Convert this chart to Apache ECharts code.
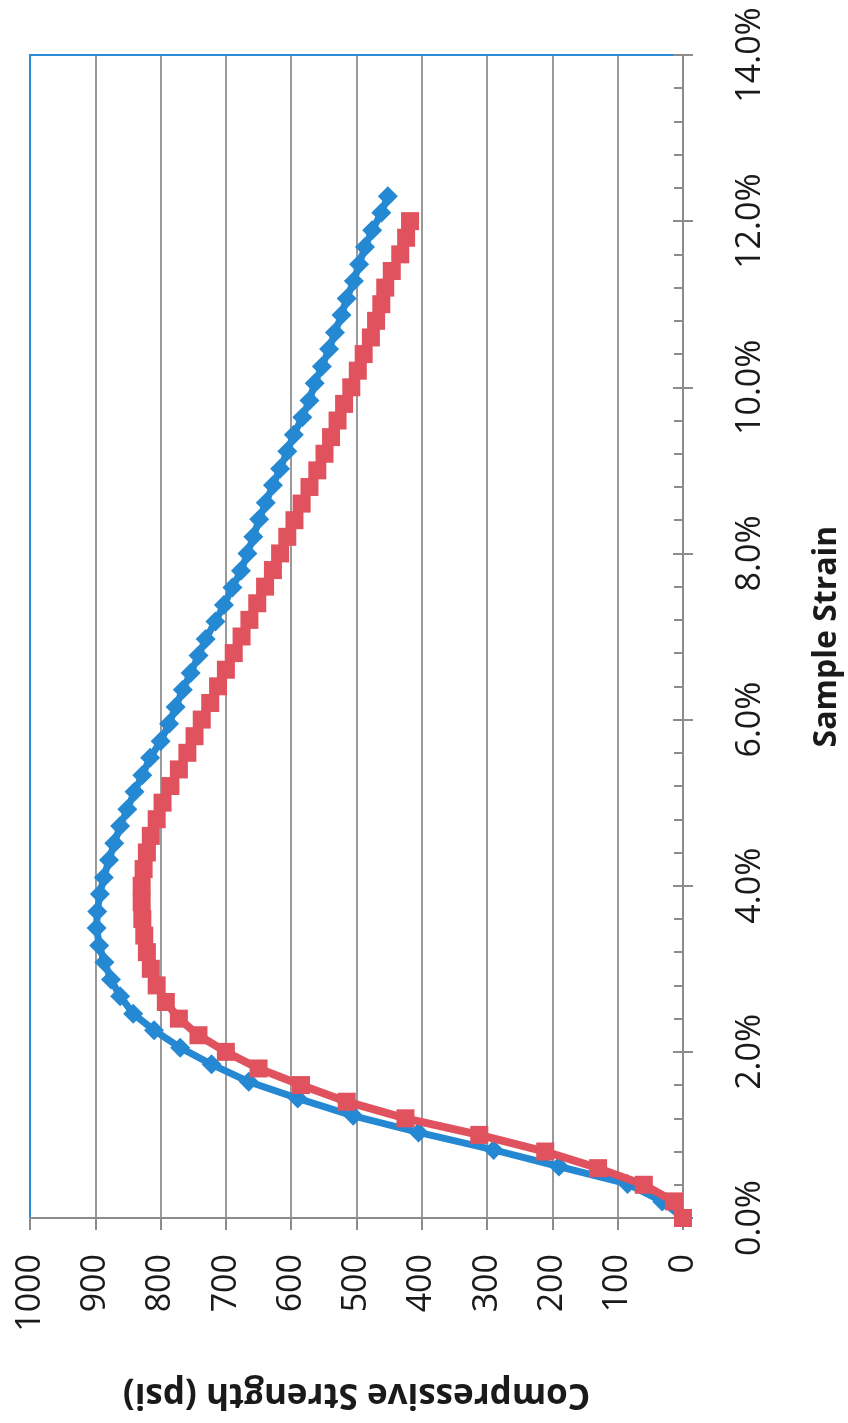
<!DOCTYPE html>
<html>
<head>
<meta charset="utf-8">
<script src="https://cdn.jsdelivr.net/npm/echarts@6/dist/echarts.min.js"></script>
<style>
html,body{margin:0;padding:0;background:#fff;}
#chart{width:848px;height:1423px;}
</style>
</head>
<body>
<div id="chart"></div>
<script>
// Sample strain (%) for each series
const blueStrain = [0, 0.2, 0.41, 0.62, 0.82, 1.03, 1.23, 1.44, 1.64, 1.85, 2.05, 2.26, 2.46, 2.67, 2.87, 3.08, 3.28, 3.49, 3.69, 3.9, 4.1, 4.31, 4.51, 4.72, 4.92, 5.13, 5.33, 5.54, 5.74, 5.95, 6.15, 6.36, 6.56, 6.77, 6.97, 7.18, 7.38, 7.59, 7.79, 8.0, 8.2, 8.41, 8.61, 8.82, 9.02, 9.23, 9.43, 9.64, 9.84, 10.05, 10.25, 10.46, 10.66, 10.87, 11.07, 11.28, 11.48, 11.69, 11.89, 12.1, 12.3];
const blueStrength = [0, 32, 85, 190, 290, 405, 505, 590, 665, 722, 770, 810, 842, 862, 876, 886, 894, 898, 897, 893, 887, 879, 871, 862, 851, 840, 828, 816, 800, 787, 777, 766, 754, 742, 731, 716, 703, 690, 677, 667, 658, 649, 639, 628, 617, 606, 596, 583, 572, 564, 553, 542, 533, 523, 515, 504, 496, 487, 476, 462, 452];
const redStrain = [0, 0.2, 0.4, 0.6, 0.8, 1.0, 1.2, 1.4, 1.6, 1.8, 2.0, 2.2, 2.4, 2.6, 2.8, 3.0, 3.2, 3.4, 3.6, 3.8, 4.0, 4.2, 4.4, 4.6, 4.8, 5.0, 5.2, 5.4, 5.6, 5.8, 6.0, 6.2, 6.4, 6.6, 6.8, 7.0, 7.2, 7.4, 7.6, 7.8, 8.0, 8.2, 8.4, 8.6, 8.8, 9.0, 9.2, 9.4, 9.6, 9.8, 10.0, 10.2, 10.4, 10.6, 10.8, 11.0, 11.2, 11.4, 11.6, 11.8, 12.0];
const redStrength = [0, 14, 60, 130, 211, 312, 425, 515, 585, 650, 700, 742, 772, 792, 806, 815, 821, 825, 828, 829, 829, 826, 821, 815, 806, 797, 785, 772, 759, 748, 737, 724, 712, 700, 688, 676, 664, 652, 640, 628, 617, 606, 595, 584, 572, 560, 549, 539, 529, 519, 508, 498, 489, 478, 470, 462, 456, 446, 433, 424, 418];
const strengthTicks = [0, 1000, 100];   // min, max, interval (psi)
const strainTicks = [0, 14, 2];         // min, max, interval (%)
const xTitle = 'Compressive Strength (psi)';
const yTitle = 'Sample Strain';

const FONT = 'Open Sans';
const AXIS_GRAY = '#8c8c8c';
const BORDER_BLUE = '#2a8ad6';

const chart = echarts.init(document.getElementById('chart'), null, {renderer: 'canvas'});
const pairs = (s, e) => s.map((v, i) => [v, e[i]]);
const gridRect = {left: 30, right: 165, top: 55, bottom: 205, containLabel: false, outerBoundsMode: 'none'};
const hiddenAxis = {axisLine: {show: false, onZero: false}, axisTick: {show: false}, axisLabel: {show: false}, splitLine: {show: false}};

chart.setOption({
  backgroundColor: '#ffffff',
  animation: false,
  grid: [Object.assign({}, gridRect), Object.assign({}, gridRect)],
  xAxis: [
    {
      gridIndex: 0, type: 'value', min: strengthTicks[0], max: strengthTicks[1], interval: strengthTicks[2],
      inverse: true, position: 'bottom',
      axisLine: {show: true, onZero: false, lineStyle: {color: AXIS_GRAY, width: 2}},
      axisTick: {show: true, length: 12, lineStyle: {color: AXIS_GRAY, width: 2}},
      axisLabel: {rotate: 90, margin: 36, fontSize: 34, color: '#1a1a1a', fontFamily: FONT,
        formatter: v => String(v)},
      splitLine: {show: true, lineStyle: {color: '#9a9a9a', width: 2}},
      name: xTitle, nameLocation: 'middle', nameGap: 158, nameRotate: 180,
      nameTextStyle: {fontSize: 35, fontWeight: 'bold', color: '#1a1a1a', fontFamily: FONT}
    },
    {
      gridIndex: 0, type: 'value', min: strengthTicks[0], max: strengthTicks[1], inverse: true, position: 'top',
      axisLine: {show: true, onZero: false, lineStyle: {color: BORDER_BLUE, width: 2}},
      axisTick: {show: false}, axisLabel: {show: false}, splitLine: {show: false}
    },
    Object.assign({gridIndex: 1, type: 'value', min: strengthTicks[0], max: strengthTicks[1], inverse: true, position: 'bottom'}, hiddenAxis)
  ],
  yAxis: [
    {
      gridIndex: 0, type: 'value', min: strainTicks[0], max: strainTicks[1], interval: strainTicks[2],
      position: 'right',
      axisLine: {show: true, onZero: false, lineStyle: {color: AXIS_GRAY, width: 2}},
      axisTick: {show: true, inside: true, length: 10, lineStyle: {color: AXIS_GRAY, width: 2}},
      minorTick: {show: true, splitNumber: 5, length: 9, lineStyle: {color: AXIS_GRAY, width: 2}},
      axisLabel: {rotate: 90, margin: 50, fontSize: 34, color: '#1a1a1a', fontFamily: FONT,
        formatter: v => v.toFixed(1) + '%'},
      splitLine: {show: false},
      name: yTitle, nameLocation: 'middle', nameGap: 128, nameRotate: 90,
      nameTextStyle: {fontSize: 32, fontWeight: 'bold', color: '#1a1a1a', fontFamily: FONT}
    },
    {
      gridIndex: 0, type: 'value', min: strainTicks[0], max: strainTicks[1], position: 'left',
      axisLine: {show: true, onZero: false, lineStyle: {color: BORDER_BLUE, width: 2}},
      axisTick: {show: false}, axisLabel: {show: false}, splitLine: {show: false}
    },
    {
      gridIndex: 1, type: 'value', min: strainTicks[0], max: strainTicks[1], interval: strainTicks[2], position: 'right',
      axisLine: {show: false, onZero: false},
      axisTick: {show: true, inside: false, length: 10, lineStyle: {color: AXIS_GRAY, width: 2}},
      axisLabel: {show: false}, splitLine: {show: false}
    }
  ],
  series: [
    {
      name: 'Sample A', type: 'line', xAxisIndex: 0, yAxisIndex: 0,
      data: pairs(blueStrength, blueStrain),
      symbol: 'diamond', symbolSize: 20, showSymbol: true,
      lineStyle: {color: '#2588d3', width: 7},
      itemStyle: {color: '#2588d3', borderWidth: 0},
      z: 3
    },
    {
      name: 'Sample B', type: 'line', xAxisIndex: 0, yAxisIndex: 0,
      data: pairs(redStrength, redStrain),
      symbol: 'rect', symbolSize: 18, showSymbol: true,
      lineStyle: {color: '#e0525e', width: 8},
      itemStyle: {color: '#e0525e', borderWidth: 0},
      z: 4
    }
  ]
});
</script>
</body>
</html>
